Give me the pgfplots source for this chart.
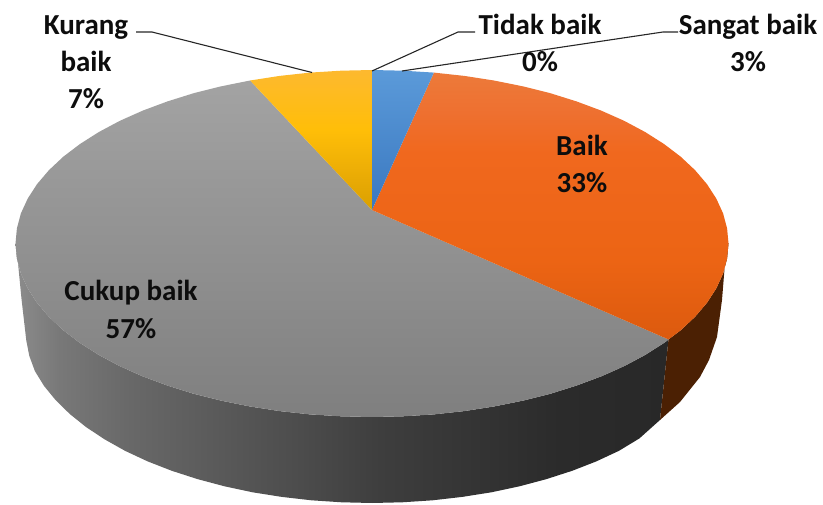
\documentclass[border=0pt]{standalone}
\usepackage{pgfplots}
\pgfplotsset{compat=1.18}
\usepackage{fontspec}
\setmainfont{Carlito}
\definecolor{ln}{HTML}{262626}
\definecolor{txt}{HTML}{0D0D0D}
\definecolor{oa}{HTML}{ED7A3A}\definecolor{ob}{HTML}{EE7030}\definecolor{oc}{HTML}{F0681E}\definecolor{od}{HTML}{EC6414}\definecolor{oe}{HTML}{DC5A0E}
\definecolor{ya}{HTML}{FDB92F}\definecolor{yb}{HTML}{FFBE08}\definecolor{yc}{HTML}{E8AA05}\definecolor{yd}{HTML}{D9A000}
\definecolor{sa}{RGB}{140,140,140}\definecolor{sb}{RGB}{120,120,120}\definecolor{sc}{RGB}{104,104,104}\definecolor{sd}{RGB}{76,76,76}\definecolor{se}{RGB}{62,62,62}\definecolor{sf}{RGB}{43,43,43}\definecolor{sg}{RGB}{40,40,40}
\pgfdeclareverticalshading{oshade}{100bp}{color(0bp)=(oe);color(25bp)=(oe);color(39.8bp)=(od);color(60bp)=(oc);color(67.6bp)=(ob);color(75bp)=(oa);color(100bp)=(oa)}
\pgfdeclareverticalshading{yshade}{100bp}{color(0bp)=(yd);color(25bp)=(yd);color(35.7bp)=(yc);color(53.6bp)=(yb);color(75bp)=(ya);color(100bp)=(ya)}
\pgfdeclarehorizontalshading{sshade}{100bp}{color(0bp)=(sa);color(25bp)=(sa);color(28.4bp)=(sb);color(33.8bp)=(sc);color(46.8bp)=(sd);color(52.9bp)=(se);color(66.7bp)=(sf);color(75bp)=(sg);color(100bp)=(sg)}
\newcommand{\lab}[3]{\node[anchor=base,inner sep=0pt,font=\fontsize{29}{34}\selectfont\bfseries,text=txt] at (axis cs:#1,#2) {#3};}
\begin{document}
\begin{tikzpicture}
\begin{axis}[scale only axis,width=823pt,height=504pt,xmin=0,xmax=823,ymin=0,ymax=504,
  axis lines=none,clip=false,no markers,every axis plot/.append style={line width=0pt}]
\path (axis cs:0,0) -- (axis cs:823,504);
% side, grey (Cukup baik)
\addplot[draw=none,shade,shading=sshade] coordinates {
(15.5,260.5)(16.9,245.4)(20.9,230.4)(27.7,215.6)(37,201.2)(48.9,187.2)(63.3,173.7)(80,161)(98.9,149)(119.9,137.8)(142.8,127.6)(167.5,118.4)(193.7,110.2)(221.3,103.3)(250.1,97.5)(279.7,92.9)(310.1,89.6)(340.9,87.7)(372,87)(403.1,87.7)(433.9,89.6)(464.3,92.9)(493.9,97.5)(522.7,103.3)(550.3,110.2)(576.5,118.4)(601.2,127.6)(624.1,137.8)(645.1,149)(664,161)(668.5,164.5)
(660,84)(639.3,65.5)(618.8,53.1)(596.3,42.6)(572.2,33.2)(546.5,24.9)(519.5,17.7)(491.4,11.7)(462.3,7.1)(432.6,3.7)(402.4,1.7)(372,1)(341.6,1.7)(311.4,3.7)(281.7,7.1)(252.6,11.7)(224.5,17.7)(197.5,24.9)(171.8,33.2)(147.7,42.6)(125.2,53.1)(104.7,64.6)(86.1,76.9)(69.8,90)(55.7,103.8)(44,118.1)(34.9,132.9)(29.3,148.1)(26.3,163.5)(24.5,179)(21.5,205)(18,241)};
% side, brown (Baik)
\addplot[draw=none,fill={rgb,255:red,75;green,32;blue,3}] coordinates {
(668.5,164.5)(680.7,173.7)(695.1,187.2)(707,201.2)(716.3,215.6)(723.1,230.4)(727.1,245.4)(728.5,260.5)
(727,262)(725,241)(722,204)(717,167)(709,144)(700,127)(680,102)(660,84)};
% top face
\addplot[draw=none,top color={rgb,255:red,163;green,163;blue,163},bottom color={rgb,255:red,127;green,127;blue,127}] coordinates {
(372,294)(668.5,164.5)(664,161)(645.1,149)(624.1,137.8)(601.2,127.6)(576.5,118.4)(550.3,110.2)(522.7,103.3)(493.9,97.5)(464.3,92.9)(433.9,89.6)(403.1,87.7)(372,87)(340.9,87.7)(310.1,89.6)(279.7,92.9)(250.1,97.5)(221.3,103.3)(193.7,110.2)(167.5,118.4)(142.8,127.6)(119.9,137.8)(98.9,149)(80,161)(63.3,173.7)(48.9,187.2)(37,201.2)(27.7,215.6)(20.9,230.4)(16.9,245.4)(15.5,260.5)(16.9,275.6)(20.9,290.6)(27.7,305.4)(37,319.8)(48.9,333.8)(63.3,347.3)(80,360)(98.9,372)(119.9,383.2)(142.8,393.4)(167.5,402.6)(193.7,410.8)(221.3,417.7)(250.1,423.5)};
\addplot[draw=none,shade,shading=oshade] coordinates {
(372,294)(433.9,431.4)(464.3,428.1)(493.9,423.5)(522.7,417.7)(550.3,410.8)(576.5,402.6)(601.2,393.4)(624.1,383.2)(645.1,372)(664,360)(680.7,347.3)(695.1,333.8)(707,319.8)(716.3,305.4)(723.1,290.6)(727.1,275.6)(728.5,260.5)(727.1,245.4)(723.1,230.4)(716.3,215.6)(707,201.2)(695.1,187.2)(680.7,173.7)(668.5,164.5)};
\addplot[draw=none,shade,shading=yshade] coordinates {
(372,294)(250.1,423.5)(279.7,428.1)(310.1,431.4)(340.9,433.3)(372,434)};
\addplot[draw=none,top color={rgb,255:red,91;green,154;blue,217},middle color={rgb,255:red,74;green,138;blue,210},bottom color={rgb,255:red,58;green,120;blue,192}] coordinates {
(372,294)(372,434)(403.1,433.3)(433.9,431.4)};
% leader lines
\addplot[ln,line width=1.1pt] coordinates {(136,472)(152,472)(312,431.5)};
\addplot[ln,line width=1.1pt] coordinates {(372,433)(458,472)(475,472)};
\addplot[ln,line width=1.1pt] coordinates {(402,433)(663,472)(678,472)};
% labels
\lab{86}{469.5}{Kurang}
\lab{86}{432.5}{baik}
\lab{86}{395.5}{7\%}
\lab{540}{469.5}{Tidak baik}
\lab{540}{432.5}{0\%}
\lab{748}{469.5}{Sangat baik}
\lab{748}{432.5}{3\%}
\lab{582}{348.5}{Baik}
\lab{582}{311}{33\%}
\lab{131}{203.5}{Cukup baik}
\lab{131}{165.5}{57\%}
\end{axis}
\end{tikzpicture}
\end{document}
